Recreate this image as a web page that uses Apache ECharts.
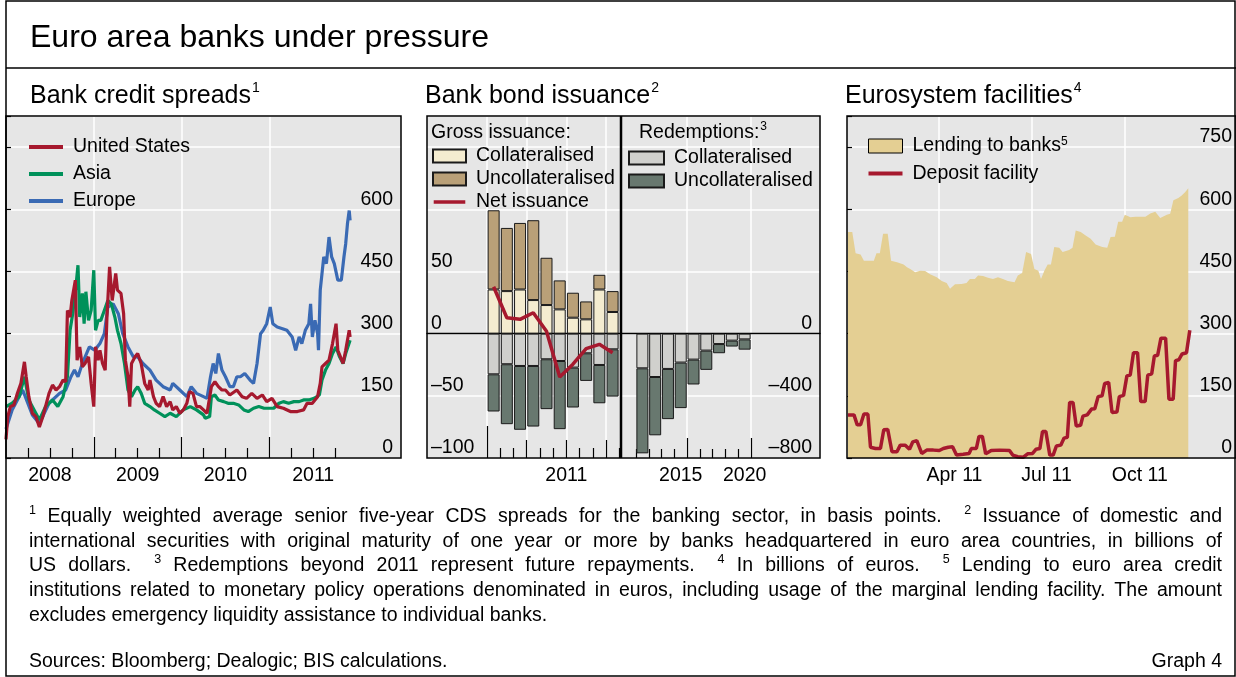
<!DOCTYPE html>
<html><head><meta charset="utf-8"><title>Euro area banks under pressure</title>
<script src="https://cdn.jsdelivr.net/npm/echarts@6.0.0/dist/echarts.min.js"></script>
<style>html,body{margin:0;padding:0;background:#fff;}#chart{width:1236px;height:677px;}</style>
</head><body><div id="chart"></div>
<script>
// ================= DATA =================
// Panel 1: bank credit spreads (decimal year, basis points)
const spreadYearLabels = ['2008', '2009', '2010', '2011'];
const spreadUS = [[2008.00,45],[2008.02,100],[2008.05,124],[2008.09,128],[2008.13,156],[2008.17,180],[2008.21,232],[2008.23,196],[2008.26,148],[2008.30,108],[2008.34,100],[2008.38,75],[2008.42,100],[2008.45,124],[2008.49,156],[2008.53,176],[2008.57,164],[2008.61,172],[2008.65,188],[2008.68,184],[2008.70,356],[2008.73,340],[2008.75,380],[2008.79,429],[2008.81,236],[2008.84,268],[2008.87,220],[2008.90,228],[2008.94,244],[2008.97,180],[2009.00,124],[2009.02,268],[2009.05,236],[2009.07,260],[2009.10,228],[2009.13,212],[2009.15,340],[2009.18,461],[2009.21,380],[2009.25,445],[2009.27,405],[2009.31,397],[2009.34,348],[2009.36,236],[2009.39,196],[2009.41,124],[2009.43,228],[2009.47,244],[2009.50,252],[2009.54,228],[2009.58,180],[2009.62,164],[2009.64,188],[2009.68,148],[2009.71,132],[2009.75,124],[2009.79,148],[2009.83,124],[2009.87,136],[2009.90,116],[2009.94,124],[2009.98,108],[2010.02,116],[2010.06,132],[2010.09,160],[2010.13,156],[2010.17,124],[2010.21,124],[2010.25,116],[2010.29,108],[2010.34,172],[2010.38,184],[2010.42,172],[2010.46,164],[2010.50,164],[2010.55,152],[2010.63,164],[2010.69,148],[2010.74,144],[2010.80,156],[2010.86,144],[2010.92,152],[2010.97,136],[2011.03,144],[2011.09,124],[2011.16,120],[2011.24,112],[2011.32,112],[2011.39,116],[2011.43,132],[2011.49,132],[2011.55,148],[2011.58,180],[2011.60,220],[2011.64,228],[2011.68,236],[2011.72,276],[2011.76,324],[2011.78,260],[2011.81,244],[2011.84,228],[2011.87,260],[2011.91,308],[2011.92,292]];
const spreadAsia = [[2008.00,124],[2008.07,132],[2008.15,148],[2008.21,196],[2008.26,140],[2008.34,108],[2008.38,92],[2008.45,124],[2008.53,140],[2008.59,124],[2008.65,148],[2008.70,196],[2008.73,308],[2008.76,348],[2008.80,421],[2008.82,465],[2008.84,340],[2008.87,397],[2008.89,324],[2008.91,401],[2008.94,332],[2008.97,356],[2009.00,453],[2009.02,308],[2009.05,332],[2009.08,332],[2009.12,356],[2009.16,380],[2009.20,372],[2009.24,340],[2009.27,308],[2009.31,276],[2009.35,228],[2009.39,164],[2009.43,148],[2009.47,164],[2009.50,172],[2009.54,156],[2009.58,132],[2009.64,124],[2009.69,116],[2009.75,108],[2009.81,100],[2009.87,108],[2009.94,100],[2010.02,116],[2010.10,124],[2010.17,116],[2010.25,104],[2010.27,96],[2010.32,100],[2010.34,148],[2010.38,152],[2010.42,140],[2010.48,136],[2010.53,132],[2010.59,132],[2010.65,128],[2010.71,116],[2010.76,112],[2010.82,120],[2010.88,124],[2010.94,120],[2010.99,120],[2011.05,120],[2011.11,132],[2011.16,136],[2011.22,132],[2011.28,136],[2011.34,136],[2011.39,140],[2011.45,140],[2011.51,144],[2011.57,152],[2011.60,188],[2011.64,212],[2011.68,228],[2011.72,252],[2011.76,268],[2011.80,244],[2011.84,228],[2011.87,252],[2011.92,284]];
const spreadEurope = [[2008.00,70],[2008.07,116],[2008.19,164],[2008.30,104],[2008.38,83],[2008.49,132],[2008.61,156],[2008.68,164],[2008.74,196],[2008.78,212],[2008.82,196],[2008.87,228],[2008.95,268],[2009.01,260],[2009.07,276],[2009.12,300],[2009.16,364],[2009.22,372],[2009.28,348],[2009.33,300],[2009.39,268],[2009.45,244],[2009.50,244],[2009.56,228],[2009.64,212],[2009.71,188],[2009.79,172],[2009.87,164],[2009.90,180],[2009.98,164],[2010.06,148],[2010.11,172],[2010.17,156],[2010.25,148],[2010.29,144],[2010.33,196],[2010.36,228],[2010.39,204],[2010.42,252],[2010.46,212],[2010.50,196],[2010.55,172],[2010.59,172],[2010.63,196],[2010.67,196],[2010.72,204],[2010.78,188],[2010.82,180],[2010.86,228],[2010.90,300],[2010.93,308],[2010.97,324],[2011.01,364],[2011.04,324],[2011.09,316],[2011.15,312],[2011.20,308],[2011.26,292],[2011.30,260],[2011.34,292],[2011.37,276],[2011.41,308],[2011.45,324],[2011.47,372],[2011.49,292],[2011.52,332],[2011.55,300],[2011.56,260],[2011.58,405],[2011.62,485],[2011.65,469],[2011.68,533],[2011.71,485],[2011.74,469],[2011.78,429],[2011.82,429],[2011.85,485],[2011.87,517],[2011.89,565],[2011.91,597],[2011.92,573]];

// Panel 2: bank bond issuance, 2011 monthly (USD bn)
const issuanceMonths = ['Jan','Feb','Mar','Apr','May','Jun','Jul','Aug','Sep','Oct'];
const grossCollateralised = [35.5,34.2,35.5,27,23,19.5,12.8,11.5,35.5,17.4];
const grossUncollateralised = [63.7,50.8,53.5,64.2,38,23.3,20.1,14.4,11.8,16.8];
const redemptionCollateralised = [-32.7,-24.6,-26,-26,-20.6,-22,-27.3,-15.8,-25.2,-12.6];
const redemptionUncollateralised = [-29.9,-48.2,-51.3,-48.7,-40.1,-54.8,-32.1,-22.2,-30.8,-38];
const netIssuance = [37.7,12.8,11.5,16.8,2,-34.8,-24.6,-12,-8.6,-15.3];
const issuanceYearLabel = ['2011'];
// future redemptions by year (USD bn)
const futureYears = ['2012','2013','2014','2015','2016','2017','2018','2019','2020'];
const futureCollateralised = [-223,-279,-227,-186,-167,-109,-67,-45,-37];
const futureUncollateralised = [-547,-375,-323,-293,-160,-124,-59,-38,-66];
const futureYearLabels = ['2015','2020'];

// Panel 3: Eurosystem facilities (day of 2011, 0 = 1 Jan; EUR bn)
const facilityMonthLabels = ['Apr 11','Jul 11','Oct 11'];
const lendingToBanks = [[0,545],[4.2,545],[7.5,494],[12.4,491],[15.7,476],[25.5,476],[28.1,494],[31.4,494],[34.6,541],[39.2,541],[42.5,476],[48.4,472],[54.9,467],[58.2,460],[61.4,456],[66.3,448],[71.2,452],[76.1,451],[81,443],[87.6,436],[92.5,427],[97.4,422],[100.7,408],[105.6,419],[112.1,420],[117,422],[120.3,432],[125.2,432],[128.4,440],[133.3,439],[138.2,435],[143.1,432],[148,436],[152.9,432],[157.8,427],[164.4,424],[167.6,440],[171.9,446],[175.8,497],[180.7,492],[184,456],[187.9,452],[190.5,432],[193.8,452],[197.1,467],[200.3,467],[203.6,509],[208.5,507],[211.8,497],[218.3,502],[221.6,507],[224.8,549],[229.7,545],[234.6,537],[239.5,529],[244.4,515],[247.7,512],[251,509],[255.9,507],[259.2,533],[263.4,534],[266.7,570],[270.6,570],[273.2,587],[278.8,581],[283.7,582],[293.5,582],[298.4,590],[303.3,594],[308.2,579],[314.7,587],[318,589],[321.2,622],[326.1,627],[329.4,633],[332.7,641],[335.9,651]];
const depositFacility = [[0,104],[5.9,104],[9.1,80],[12.4,80],[15.7,106],[19.6,106],[22.2,26],[27.1,23],[32,23],[35.3,68],[39.2,69],[43.4,15],[48.3,15],[51.6,31],[56.5,31],[60.7,21],[64,39],[67.9,42],[72.8,11],[77.7,19],[84.3,19],[90.1,18],[94.1,23],[99,26],[103.2,27],[107.1,7],[113.7,9],[119.5,11],[121.8,23],[126.7,23],[129.3,52],[132.6,52],[135.9,10],[141.4,18],[149.6,19],[159.4,18],[162.6,7],[167.5,3],[173.1,2],[177.3,10],[182.2,11],[185.5,21],[189.4,23],[192,64],[195.3,64],[199.2,7],[202.5,7],[205.7,29],[210,31],[213.3,48],[216.5,50],[218.8,134],[222.1,134],[225.3,77],[229.6,79],[231.9,101],[236.1,104],[240.4,118],[243.6,119],[246.9,148],[250.8,150],[253.4,180],[257.3,182],[260.6,110],[265.5,111],[267.8,148],[272,151],[275.3,198],[278.6,200],[281.8,254],[285.8,254],[289,136],[293.3,136],[295.9,200],[299.8,203],[302.4,246],[305.7,248],[308.9,289],[313.5,289],[316.8,142],[321,142],[323.3,235],[326.6,237],[329.8,251],[334.1,254],[337.4,308]];

// ================= LAYOUT / STYLE =================
const FONT = 'Liberation Sans';
const FS = 19.5;
const P1 = {x: 6, y: 116, w: 395, h: 342};
const P2A = {x: 427, y: 116, w: 194, h: 342};
const P2B = {x: 621, y: 116, w: 199, h: 342};
const P3 = {x: 847, y: 116, w: 389, h: 342};
const MONTH_PX = 13.22, YEAR_PX = 12.78;
const BARS_A = {x: 487, y: 116, w: MONTH_PX * 10, h: 342};   // Jan-Oct 2011 band
const BARS_B = {x: 636, y: 116, w: YEAR_PX * 9, h: 342};     // 2012-2020 band
const C = {bg: '#e6e6e6', grid: '#ffffff', us: '#a6192e', asia: '#00915a', europe: '#3a6ab4',
  gc: '#f4ecd0', gu: '#b9a078', rc: '#d0d0cd', ru: '#68786f', net: '#a6192e', lend: '#e4cf93', dep: '#a6192e'};

const p2aMin = -(BARS_A.x - P2A.x) / MONTH_PX, p2aMax = (P2A.x + P2A.w - BARS_A.x) / MONTH_PX;
const p2bMin = 2012 - (BARS_B.x - P2B.x) / YEAR_PX, p2bMax = 2012 + (P2B.x + P2B.w - BARS_B.x) / YEAR_PX;

function xTicks(grid, min, max, ticks, len, split) {
  return {gridIndex: grid, type: 'value', min, max, position: 'bottom',
    axisLine: {show: false, onZero: false},
    axisTick: {show: true, inside: true, length: len, customValues: ticks, lineStyle: {color: '#000', width: 1.2}},
    axisLabel: {show: false},
    splitLine: {show: !!split, lineStyle: {color: C.grid, width: 1.5}},
    axisPointer: {show: false}};
}
function withLabels(ax, values, fmt) {
  ax.axisLabel = {show: true, customValues: values, formatter: fmt, margin: 8, color: '#000', fontSize: FS, fontFamily: FONT};
  return ax;
}
function zeroAxis(grid, min, max) {
  return {gridIndex: grid, type: 'value', min, max, position: 'bottom',
    axisLine: {show: true, onZero: true, lineStyle: {color: '#000', width: 1.3}},
    axisTick: {show: false}, axisLabel: {show: false}, splitLine: {show: false}};
}
function hiddenCat(grid, data) {
  return {gridIndex: grid, type: 'category', data, boundaryGap: true,
    axisLine: {show: false, onZero: false}, axisTick: {show: false}, axisLabel: {show: false}, splitLine: {show: false}};
}
function yAx(grid, min, max, interval, pos, margin, maxLabel) {
  return {gridIndex: grid, type: 'value', min, max, interval, position: pos,
    axisLine: {show: false, onZero: false}, axisTick: {show: false},
    axisLabel: {inside: true, margin, verticalAlign: 'bottom', color: '#000', fontSize: FS, fontFamily: FONT,
      formatter: v => v > maxLabel ? '' : (v < 0 ? '\u2013' + Math.abs(v) : String(v))},
    splitLine: {show: true, lineStyle: {color: C.grid, width: 1.5}}};
}
function yTickSide(grid, min, max, interval, pos) {
  return {gridIndex: grid, type: 'value', min, max, interval, position: pos,
    axisLine: {show: false, onZero: false}, axisTick: {show: true, inside: true, length: 5, lineStyle: {color: '#000', width: 1.2}},
    axisLabel: {show: false}, splitLine: {show: false}};
}
function yHidden(grid, min, max) {
  return {gridIndex: grid, type: 'value', min, max, axisLine: {show: false, onZero: false}, axisTick: {show: false},
    axisLabel: {show: false}, splitLine: {show: false}};
}

const quarterTicks = [];
for (let y = 2008; y <= 2011; y++) [0.25, 0.5, 0.75].forEach(q => quarterTicks.push(y + q));
const p3LabelPos = [105, 196, 288];

const xAxes = [
  /*0*/ withLabels(xTicks(0, 2008, 2012.5, quarterTicks, 10, false),
    spreadYearLabels.map(y => +y + 0.5), v => spreadYearLabels[Math.floor(v) - 2008]),
  /*1*/ xTicks(0, 2008, 2012.5, [2009, 2010, 2011], 21, true),
  /*2*/ withLabels(xTicks(1, p2aMin, p2aMax, [1, 2, 4, 5, 7, 8, 10], 10, false), [6], () => issuanceYearLabel[0]),
  /*3*/ xTicks(1, p2aMin, p2aMax, [3, 6, 9], 18, true),
  /*4*/ xTicks(1, p2aMin, p2aMax, [0], 32, true),
  /*5*/ zeroAxis(1, p2aMin, p2aMax),
  /*6*/ withLabels(xTicks(2, p2bMin, p2bMax, [2012, 2013, 2014, 2015, 2017, 2018, 2019, 2020], 9, false),
    futureYearLabels.map(y => +y + 0.5), v => String(Math.floor(v))),
  /*7*/ xTicks(2, p2bMin, p2bMax, [2016, 2021], 20, true),
  /*8*/ zeroAxis(2, p2bMin, p2bMax),
  /*9*/ withLabels(xTicks(3, -1, 383, [31, 59, 120, 151, 212, 243, 304, 334], 10, false),
    p3LabelPos, v => facilityMonthLabels[p3LabelPos.indexOf(v)]),
  /*10*/ xTicks(3, -1, 383, [90, 181, 273], 20, true),
  /*11*/ hiddenCat(4, issuanceMonths),
  /*12*/ hiddenCat(5, futureYears)
];
const yAxes = [
  /*0*/ yAx(0, 0, 825, 150, 'right', 8, 600),
  /*1*/ yAx(1, -100, 175, 50, 'left', 4, 50),
  /*2*/ yAx(2, -800, 1400, 400, 'right', 8, 0),
  /*3*/ yAx(3, 0, 825, 150, 'right', 4, 750),
  /*4*/ yHidden(4, -100, 175),
  /*5*/ yHidden(5, -800, 1400),
  /*6*/ yTickSide(0, 0, 825, 150, 'left'),
  /*7*/ yTickSide(3, 0, 825, 150, 'left')
];

const lineS = (name, data, color, xi, yi, z, w) => ({name, type: 'line', data, xAxisIndex: xi, yAxisIndex: yi,
  symbol: 'none', lineStyle: {color, width: w || 3}, itemStyle: {color}, z, silent: true});
const barS = (name, data, color, xi, yi, stack) => ({name, type: 'bar', stack, data, xAxisIndex: xi, yAxisIndex: yi,
  barWidth: 12, itemStyle: {color, borderColor: '#1a1a1a', borderWidth: 1}, silent: true});

const series = [
  lineS('Europe', spreadEurope, C.europe, 0, 0, 3, 3.2),
  lineS('Asia', spreadAsia, C.asia, 0, 0, 4, 3.2),
  lineS('United States', spreadUS, C.us, 0, 0, 5, 3.2),
  barS('Gross: Collateralised', grossCollateralised, C.gc, 11, 4, 'monthly2011'),
  barS('Gross: Uncollateralised', grossUncollateralised, C.gu, 11, 4, 'monthly2011'),
  barS('Redemptions 2011: Collateralised', redemptionCollateralised, C.rc, 11, 4, 'monthly2011'),
  barS('Redemptions 2011: Uncollateralised', redemptionUncollateralised, C.ru, 11, 4, 'monthly2011'),
  lineS('Net issuance', netIssuance, C.net, 11, 4, 6, 3.5),
  barS('Redemptions: Collateralised', futureCollateralised, C.rc, 12, 5, 'future'),
  barS('Redemptions: Uncollateralised', futureUncollateralised, C.ru, 12, 5, 'future'),
  {name: 'Lending to banks', type: 'line', data: lendingToBanks, xAxisIndex: 9, yAxisIndex: 3, symbol: 'none',
    lineStyle: {width: 0}, areaStyle: {color: C.lend, opacity: 1}, itemStyle: {color: C.lend}, z: 2, silent: true},
  lineS('Deposit facility', depositFacility, C.dep, 9, 3, 5, 3.5)
];

const LINE_ICON = 'path://M0,0M0,14M0,5L34,5L34,9L0,9Z';
const legText = {color: '#000', fontSize: FS, fontFamily: FONT, padding: [0, 0, 0, 5]};
const strip = n => n.replace(/^.*: /, '');
const legBase = {orient: 'vertical', selectedMode: false, padding: 0};
const legends = [
  Object.assign({}, legBase, {left: 29, top: 137, itemWidth: 34, itemHeight: 14, itemGap: 7, textStyle: legText,
    data: ['United States', 'Asia', 'Europe'].map(n => ({name: n, icon: LINE_ICON}))}),
  Object.assign({}, legBase, {left: 432, top: 146, itemWidth: 33, itemHeight: 13, itemGap: 3, textStyle: legText,
    formatter: strip,
    data: [{name: 'Gross: Collateralised', icon: 'rect'}, {name: 'Gross: Uncollateralised', icon: 'rect'}, {name: 'Net issuance', icon: LINE_ICON}]}),
  Object.assign({}, legBase, {left: 628, top: 148, itemWidth: 35, itemHeight: 13, itemGap: 3, textStyle: legText,
    formatter: strip,
    data: [{name: 'Redemptions: Collateralised', icon: 'rect'}, {name: 'Redemptions: Uncollateralised', icon: 'rect'}]}),
  Object.assign({}, legBase, {left: 868, top: 136, itemWidth: 34, itemHeight: 14, itemGap: 7.5,
    textStyle: Object.assign({}, legText, {rich: {t: {fontSize: FS, fontFamily: FONT, color: '#000'}, s: {fontSize: 12, fontFamily: FONT, color: '#000', verticalAlign: 'top', lineHeight: 20}}}),
    formatter: n => n === 'Lending to banks' ? '{t|Lending to banks}{s|5}' : '{t|' + n + '}',
    data: [{name: 'Lending to banks', icon: 'rect', itemStyle: {color: C.lend, borderColor: '#000', borderWidth: 1}}, {name: 'Deposit facility', icon: LINE_ICON}]})
];

// ================= TEXT / FRAME GRAPHICS =================
const mctx = document.createElement('canvas').getContext('2d');
function tw(s, size) { mctx.font = size + 'px "' + FONT + '"'; return mctx.measureText(s).width; }
const G = [];
function txt(x, y, s, size, align) {
  G.push({type: 'text', x, y, z: 100, silent: true, style: {text: s, fontSize: size, fontFamily: FONT, fill: '#000',
    textAlign: align || 'left', textVerticalAlign: 'middle', align: align || 'left', verticalAlign: 'middle'}});
}
function txtSup(x, y, s, size, sup, supSize) {
  txt(x, y, s, size);
  txt(x + tw(s, size) + 1, y - size * 0.32, sup, supSize);
}
G.push({type: 'rect', z: 100, silent: true, shape: {x: 6, y: 1, width: 1229, height: 675}, style: {fill: 'none', stroke: '#000', lineWidth: 1.5}});
G.push({type: 'line', z: 100, silent: true, shape: {x1: 6, y1: 68, x2: 1236, y2: 68}, style: {stroke: '#000', lineWidth: 1.5}});
[P1, {x: P2A.x, y: P2A.y, w: P2A.w + P2B.w, h: P2A.h}, P3].forEach(p => G.push({type: 'rect', z: 100, silent: true,
  shape: {x: p.x, y: p.y, width: p.w, height: p.h}, style: {fill: 'none', stroke: '#000', lineWidth: 1.5}}));
G.push({type: 'line', z: 100, silent: true, shape: {x1: P2B.x, y1: P2B.y, x2: P2B.x, y2: P2B.y + P2B.h}, style: {stroke: '#000', lineWidth: 2.5}});
txt(30, 38, 'Euro area banks under pressure', 32);
txtSup(30, 96, 'Bank credit spreads', 25, '1', 14);
txtSup(425, 96, 'Bank bond issuance', 25, '2', 14);
txtSup(845, 96, 'Eurosystem facilities', 25, '4', 14);
txt(431, 133, 'Gross issuance:', FS);
txtSup(639, 133, 'Redemptions:', FS, '3', 12);
const footnoteLines = [
  '^1 Equally weighted average senior five-year CDS spreads for the banking sector, in basis points. ^2 Issuance of domestic and',
  'international securities with original maturity of one year or more by banks headquartered in euro area countries, in billions of',
  'US dollars. ^3 Redemptions beyond 2011 represent future repayments. ^4 In billions of euros. ^5 Lending to euro area credit',
  'institutions related to monetary policy operations denominated in euros, including usage of the marginal lending facility. The amount',
  'excludes emergency liquidity assistance to individual banks.'
];
const footY = [517, 541.5, 566, 591, 616];
function footLine(str, y, justify, x0, x1) {
  const sp = tw(' ', FS), supSize = 12.5;
  const items = str.split(' ').map((w, i) => {
    const sup = w[0] === '^';
    const t = sup ? w.slice(1) : w;
    return {t, sup, w: tw(t, sup ? supSize : FS), gap: i === 0 ? 0 : (sup ? sp * 3 : sp)};
  });
  const natural = items.reduce((a, it) => a + it.w + it.gap, 0);
  const extra = justify && items.length > 1 ? (x1 - x0 - natural) / (items.length - 1) : 0;
  let x = x0;
  items.forEach((it, i) => {
    if (i > 0) x += it.gap + extra;
    txt(x, it.sup ? y - 6 : y, it.t, it.sup ? supSize : FS);
    x += it.w;
  });
}
footnoteLines.forEach((l, i) => footLine(l, footY[i], i < 4, 29, 1222));
txt(29, 662, 'Sources: Bloomberg; Dealogic; BIS calculations.', FS);
txt(1222, 662, 'Graph 4', FS, 'right');

const grids = [P1, P2A, P2B, P3].map(p => ({left: p.x, top: p.y, width: p.w, height: p.h, show: true,
  backgroundColor: C.bg, borderWidth: 0, containLabel: false}))
  .concat([BARS_A, BARS_B].map(p => ({left: p.x, top: p.y, width: p.w, height: p.h, show: false, containLabel: false})));

const chart = echarts.init(document.getElementById('chart'), null, {renderer: 'canvas'});
chart.setOption({
  animation: false,
  backgroundColor: '#fff',
  grid: grids,
  xAxis: xAxes,
  yAxis: yAxes,
  legend: legends,
  series,
  graphic: {elements: G}
});
</script></body></html>
